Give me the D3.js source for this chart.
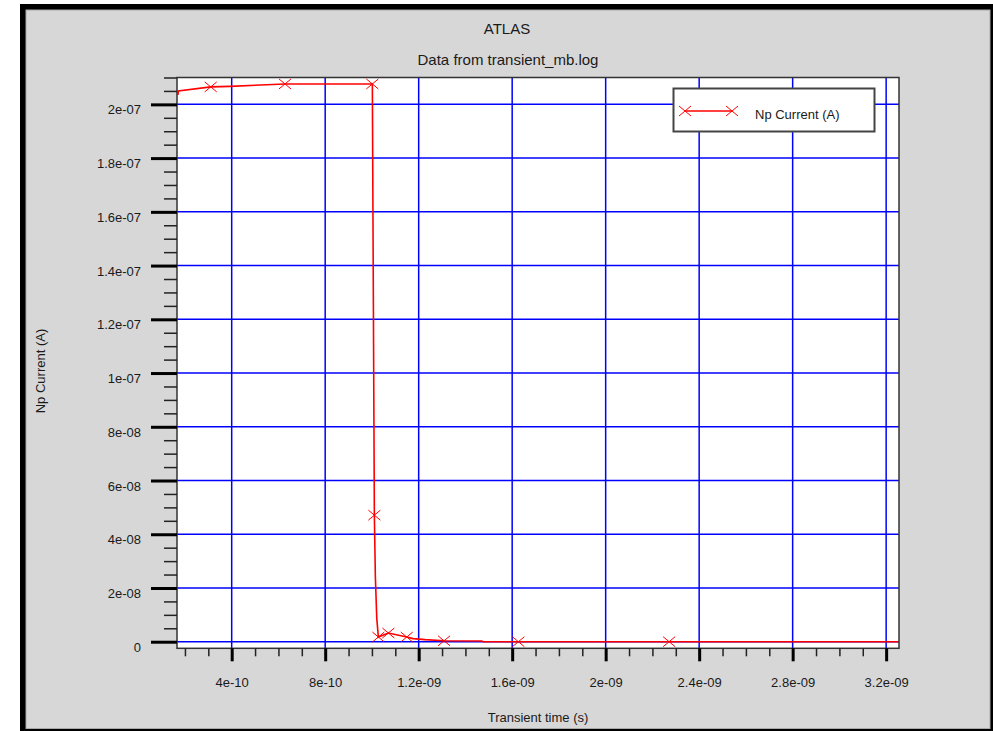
<!DOCTYPE html>
<html>
<head>
<meta charset="utf-8">
<title>ATLAS - transient_mb.log</title>
<script type="text/javascript" src="https://d3js.org/d3.v7.min.js"></script>
<style>
body { margin: 0; background: #fff; }
text { font-family: "Liberation Sans", Arial, sans-serif; fill: #1a1a1a; }
</style>
</head>
<body>
<script type="text/javascript">

// data (time in s, current in A)
var times = [1.70e-10, 1.72e-10, 3.103e-10, 3.93e-10, 5.50e-10, 6.28e-10, 1.0018e-9,
             1.0104e-9, 1.0147e-9, 1.0207e-9, 1.0275e-9, 1.0703e-9, 1.149e-9, 1.176e-9,
             1.227e-9, 1.3086e-9, 1.470e-9, 1.4756e-9, 1.6266e-9, 2.2715e-9, 3.3e-9];
var currents = [2.035e-7, 2.050e-7, 2.065e-7, 2.067e-7, 2.073e-7, 2.076e-7, 2.076e-7,
                4.71e-8, 2.41e-8, 8.7e-9, 1.75e-9, 3.24e-9, 1.75e-9, 1.16e-9,
                7.8e-10, 3.4e-10, 2.6e-10, 1e-11, 5e-12, 1e-12, 0];
// points that carry an X marker
var markerIdx = [2, 5, 6, 7, 10, 11, 12, 15, 18, 19];

var xTickLabels = ["4e-10", "8e-10", "1.2e-09", "1.6e-09", "2e-09", "2.4e-09", "2.8e-09", "3.2e-09"];
var yTickLabels = ["0", "2e-08", "4e-08", "6e-08", "8e-08", "1e-07", "1.2e-07", "1.4e-07", "1.6e-07", "1.8e-07", "2e-07"];

var seriesName = "Np Current (A)";

// svg size
var svgWidth = 993;
var svgHeight = 731;
// plot area ("top" is taken by window.top, so prefix everything)
var plotLeft = 177, plotRight = 899, plotTop = 77.5, plotBottom = 648.3;

var svg = d3.select("body")
    .append("svg")
    .attr("width", svgWidth)
    .attr("height", svgHeight);

// window frame
svg.append("rect")
    .attr("x", 20).attr("y", 4)
    .attr("width", 990).attr("height", 740)
    .attr("fill", "#000");
svg.append("rect")
    .attr("x", 26).attr("y", 10)
    .attr("width", 964).attr("height", 718.5)
    .attr("fill", "#d7d7d7")
    .attr("stroke", "#a8a8a8")
    .attr("stroke-width", 1);

// scales
var x = d3.scaleLinear().domain([1.66e-10, 3.255e-9]).range([plotLeft, plotRight]);
var y = d3.scaleLinear().domain([-2.45e-9, 2.1e-7]).range([plotBottom, plotTop]);

var xMajor = xTickLabels.map(function(d){ return +d; });
var yMajor = yTickLabels.map(function(d){ return +d; });
var xMinor = d3.range(2, 33).map(function(i){ return i * 1e-10; });
var yMinor = d3.range(0, 43).map(function(i){ return i * 5e-9; });

// white plot area
svg.append("rect")
    .attr("x", plotLeft).attr("y", plotTop)
    .attr("width", plotRight - plotLeft).attr("height", plotBottom - plotTop)
    .attr("fill", "#fff");

// grid
svg.append("g").selectAll("line")
    .data(xMajor).enter().append("line")
    .attr("x1", function(d){ return x(d); })
    .attr("x2", function(d){ return x(d); })
    .attr("y1", plotTop).attr("y2", plotBottom)
    .attr("stroke", "#0000ff").attr("stroke-width", 1.5);
svg.append("g").selectAll("line")
    .data(yMajor).enter().append("line")
    .attr("y1", function(d){ return y(d); })
    .attr("y2", function(d){ return y(d); })
    .attr("x1", plotLeft).attr("x2", plotRight)
    .attr("stroke", "#0000ff").attr("stroke-width", 1.5);

// data line, clipped to plot area
svg.append("clipPath").attr("id", "clip")
    .append("rect")
    .attr("x", plotLeft).attr("y", plotTop)
    .attr("width", plotRight - plotLeft).attr("height", plotBottom - plotTop);

var pts = times.map(function(t, i){ return [t, currents[i]]; });
var line = d3.line()
    .x(function(d){ return x(d[0]); })
    .y(function(d){ return y(d[1]); });

var plot = svg.append("g").attr("clip-path", "url(#clip)");
plot.append("path")
    .datum(pts)
    .attr("d", line)
    .attr("fill", "none")
    .attr("stroke", "#ff0000")
    .attr("stroke-width", 1.6);

function cross(g, cx, cy){
    g.append("path")
        .attr("d", "M" + (cx - 6) + "," + (cy - 5) + "L" + (cx + 6) + "," + (cy + 5) +
                   "M" + (cx - 6) + "," + (cy + 5) + "L" + (cx + 6) + "," + (cy - 5))
        .attr("stroke", "#ff0000")
        .attr("stroke-width", 1)
        .attr("fill", "none");
}
markerIdx.forEach(function(i){
    cross(plot, x(times[i]), y(currents[i]));
});

// plot frame
svg.append("rect")
    .attr("x", plotLeft).attr("y", plotTop)
    .attr("width", plotRight - plotLeft).attr("height", plotBottom - plotTop)
    .attr("fill", "none")
    .attr("stroke", "#333")
    .attr("stroke-width", 1.5);

// axes: minor ticks
var xMinorAxis = svg.append("g")
    .attr("transform", "translate(0," + plotBottom + ")")
    .call(d3.axisBottom(x).tickValues(xMinor).tickSize(8).tickFormat(""));
var yMinorAxis = svg.append("g")
    .attr("transform", "translate(" + plotLeft + ",0)")
    .call(d3.axisLeft(y).tickValues(yMinor).tickSize(13).tickFormat(""));
xMinorAxis.selectAll("line").attr("stroke", "#222").attr("stroke-width", 1.5);
yMinorAxis.selectAll("line").attr("stroke", "#222").attr("stroke-width", 1.5);

// axes: major ticks with labels
var xAxis = svg.append("g")
    .attr("transform", "translate(0," + plotBottom + ")")
    .call(d3.axisBottom(x).tickValues(xMajor).tickSize(13).tickPadding(16)
        .tickFormat(function(d, i){ return xTickLabels[i]; }));
var yAxis = svg.append("g")
    .attr("transform", "translate(" + plotLeft + ",0)")
    .call(d3.axisLeft(y).tickValues(yMajor).tickSize(26).tickPadding(10)
        .tickFormat(function(d, i){ return yTickLabels[i]; }));

[xAxis, yAxis, xMinorAxis, yMinorAxis].forEach(function(a){
    a.select(".domain").remove();
    a.selectAll("text")
        .attr("fill", "#1a1a1a")
        .style("font-family", "'Liberation Sans', Arial, sans-serif")
        .style("font-size", "13px");
});
xAxis.selectAll("line").attr("stroke", "#000").attr("stroke-width", 3);
yAxis.selectAll("line").attr("stroke", "#000").attr("stroke-width", 3);
yAxis.selectAll("text").attr("dy", "0.73em");

// titles
svg.append("text")
    .attr("x", 507).attr("y", 34)
    .attr("text-anchor", "middle")
    .style("font-size", "15px")
    .text("ATLAS");
svg.append("text")
    .attr("x", 508).attr("y", 65)
    .attr("text-anchor", "middle")
    .style("font-size", "15px")
    .text("Data from transient_mb.log");

svg.append("text")
    .attr("x", 538).attr("y", 722)
    .attr("text-anchor", "middle")
    .style("font-size", "13px")
    .text("Transient time (s)");
svg.append("text")
    .attr("transform", "translate(45,371) rotate(-90)")
    .attr("text-anchor", "middle")
    .style("font-size", "13px")
    .text(seriesName);

// legend
var legend = svg.append("g");
legend.append("rect")
    .attr("x", 673.5).attr("y", 88.5)
    .attr("width", 201).attr("height", 43)
    .attr("fill", "#fff")
    .attr("stroke", "#444")
    .attr("stroke-width", 2);
legend.append("line")
    .attr("x1", 685).attr("x2", 732)
    .attr("y1", 111).attr("y2", 111)
    .attr("stroke", "#ff0000")
    .attr("stroke-width", 1.3);
cross(legend, 685, 111);
cross(legend, 732, 111);
legend.append("text")
    .attr("x", 755).attr("y", 119)
    .style("font-size", "13px")
    .text(seriesName);

</script>
</body>
</html>
